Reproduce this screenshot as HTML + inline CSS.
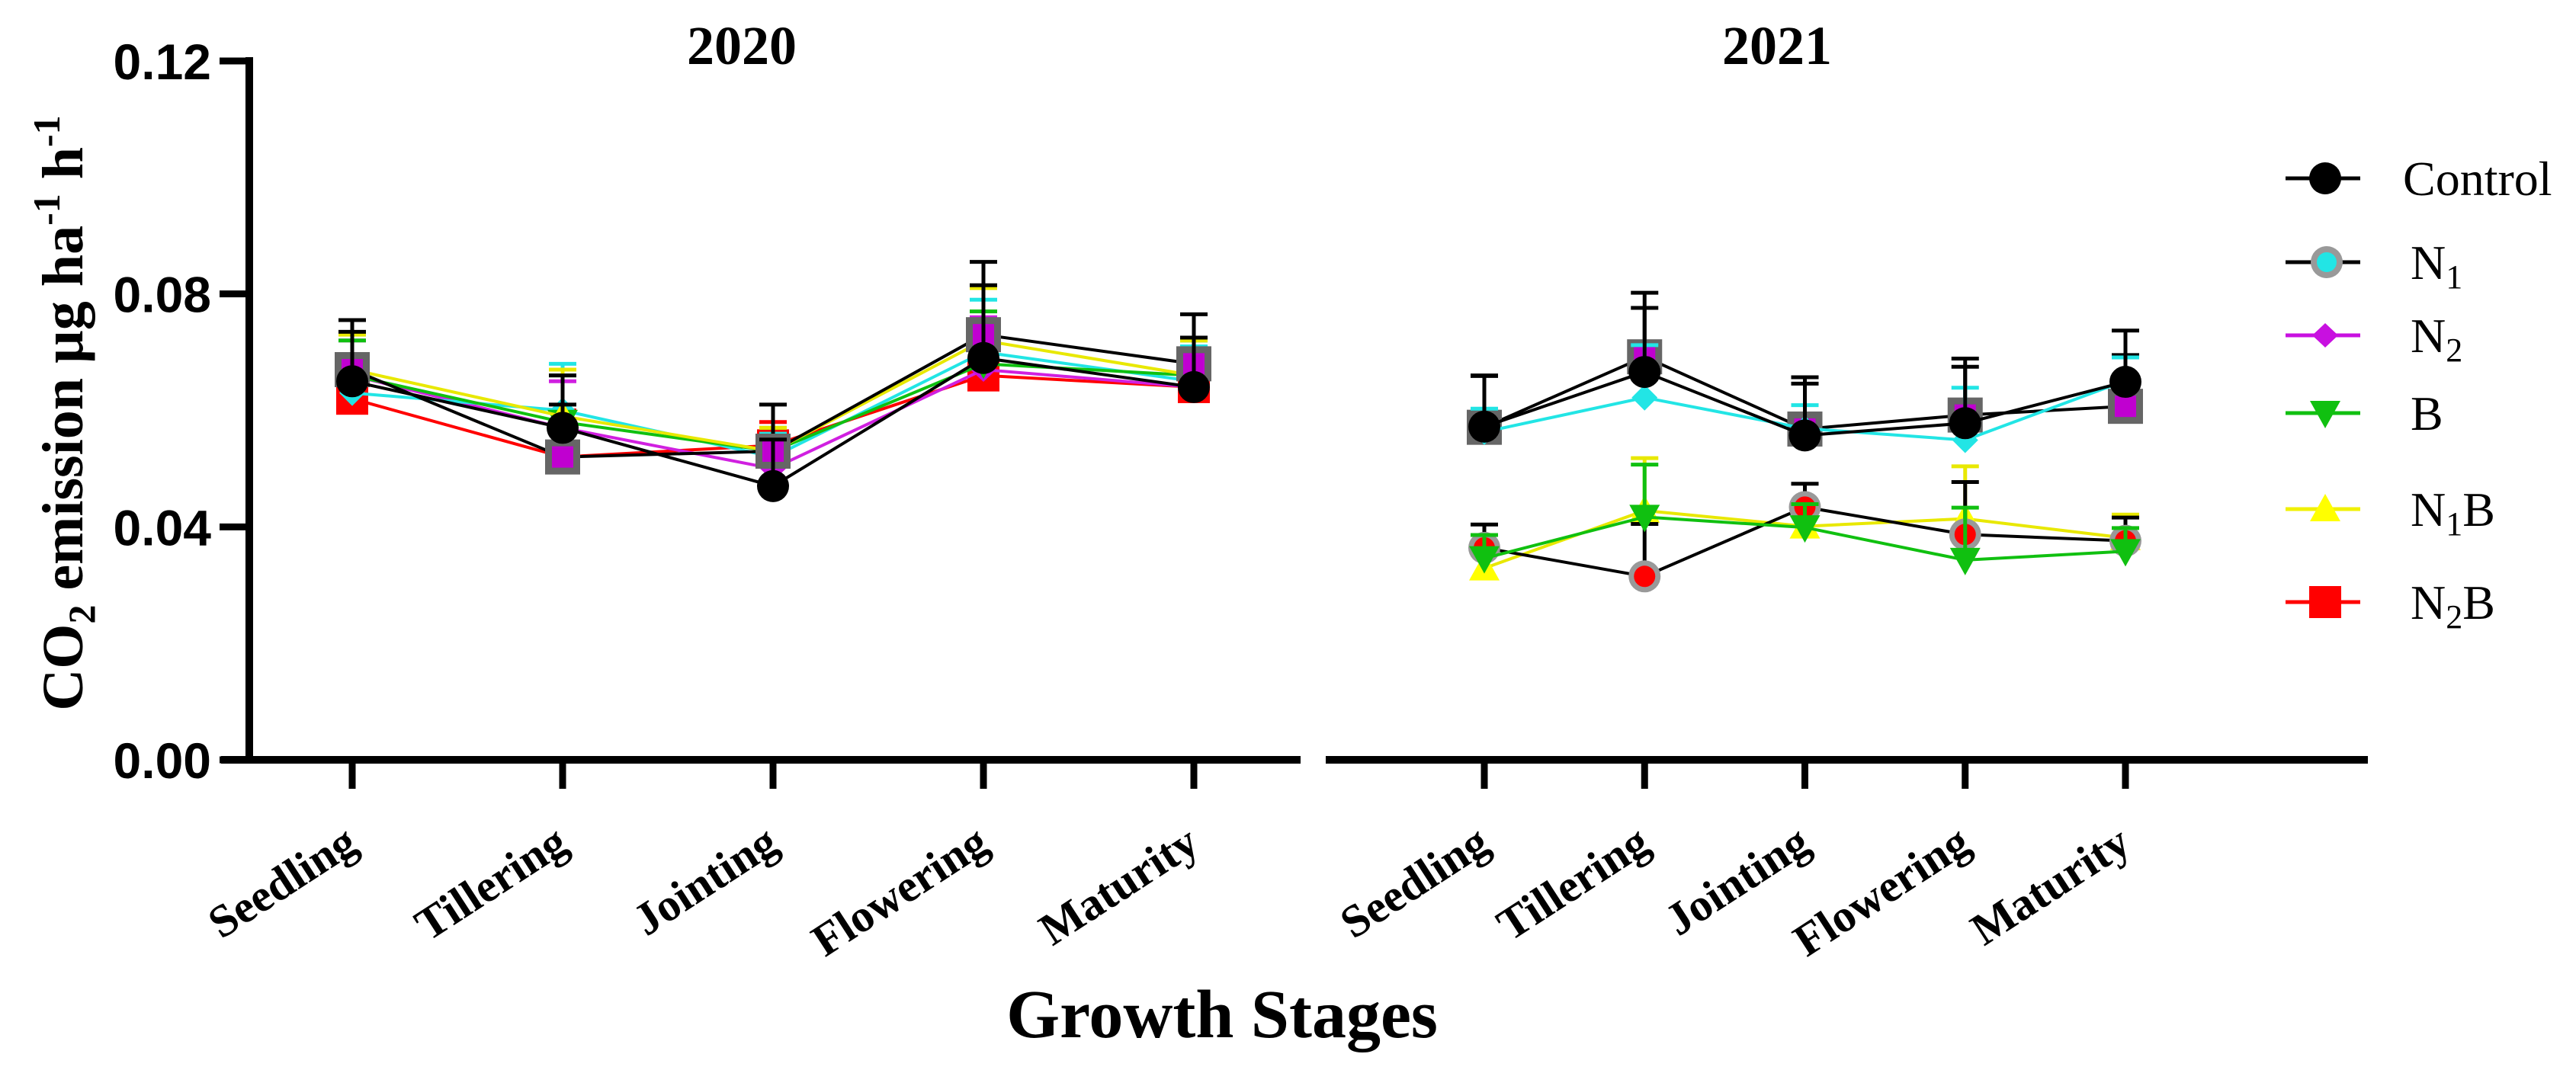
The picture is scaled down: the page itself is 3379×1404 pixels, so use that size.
<!DOCTYPE html>
<html><head><meta charset="utf-8"><style>
html,body{margin:0;padding:0;background:#fff;}
svg{display:block;}
</style></head><body>
<svg id="chart" width="3379" height="1404" viewBox="0 0 3379 1404" xmlns="http://www.w3.org/2000/svg">
<g id="axes"></g><g id="marks"></g><g id="legend"></g>
</svg>
<script>
const categories = ["Seedling","Tillering","Jointing","Flowering","Maturity"];
const yTicks = [0, 0.04, 0.08, 0.12];
const yTickLabels = ["0.00","0.04","0.08","0.12"];
const panelYears = ["2020","2021"];
// 2020 series values
const control2020 = [0.065,0.057,0.047,0.069,0.064];
const n1_2020 = [0.067,0.052,0.053,0.073,0.068];
const cyan2020 = [0.063,0.060,0.052,0.070,0.065];
const n2_2020 = [0.066,0.057,0.050,0.067,0.064];
const b2020 = [0.066,0.058,0.053,0.068,0.066];
const n1b2020 = [0.067,0.059,0.053,0.072,0.066];
const n2b2020 = [0.062,0.052,0.054,0.066,0.064];
// 2021 series values
const control2021 = [0.0572,0.0666,0.0557,0.0578,0.0649];
const n1_2021 = [0.0571,0.0692,0.0568,0.0592,0.0607];
const cyan2021 = [0.0563,0.0622,0.0569,0.0549,0.0651];
const n2_2021 = [0.0571,0.0692,0.0568,0.0592,0.0607];
const b2021 = [0.0346,0.0417,0.0399,0.0343,0.0358];
const n1b2021 = [0.0329,0.0428,0.0401,0.0414,0.0381];
const n2b2021 = [0.0364,0.0315,0.0434,0.0387,0.0376];
// error (upper) values
const controlErr2020 = [0.0085,0.009,0.008,0.0125,0.0085];
const otherErr2020 = [0.006,0.008,0.004,0.009,0.006];
const controlErr2021 = [0.0088,0.011,0.0089,0.0097,0.0088];
const otherErr2021 = [0.004,0.009,0.004,0.009,0.004];
const legendLabels = ["Control","N1","N2","B","N1B","N2B"];

const NS="http://www.w3.org/2000/svg";
function el(tag, attrs, parent){const e=document.createElementNS(NS,tag);for(const k in attrs)e.setAttribute(k,attrs[k]);(parent||document.getElementById('marks')).appendChild(e);return e;}
const Y0=997, YTOP=80;
function y(v){return Y0-(v/0.12)*(Y0-YTOP);}
const panels=[{x0:462,dx:276,axL:290,axR:1706},{x0:1947,dx:210.25,axL:1739,axR:3106}];
function x(p,i){return panels[p].x0+i*panels[p].dx;}
const axes=document.getElementById('axes');
let a=el('line',{x1:327,y1:YTOP-5,x2:327,y2:Y0+5,stroke:'#000','stroke-width':10},axes);

yTicks.forEach((t,i)=>{
  const tk=el('line',{x1:288,x2:327,y1:y(t),y2:y(t),stroke:'#000','stroke-width':9},axes);
  
  const tl=el('text',{x:277,y:y(t)+24,'text-anchor':'end','font-family':'Liberation Sans, sans-serif','font-weight':'bold','font-size':66},axes);
  tl.textContent=yTickLabels[i];
  
});
const yt=el('text',{transform:'translate(108,542) rotate(-90)','text-anchor':'middle','font-family':'Liberation Serif, serif','font-weight':'bold','font-size':76},axes);
yt.innerHTML='CO<tspan font-size="50" dy="16">2</tspan><tspan dy="-16"> emission µg ha</tspan><tspan font-size="50" dy="-30">-1</tspan><tspan dy="30"> h</tspan><tspan font-size="50" dy="-30">-1</tspan>';

panels.forEach((p,pi)=>{
  const xa=el('line',{x1:p.axL,x2:p.axR,y1:Y0,y2:Y0,stroke:'#000','stroke-width':10},axes);
  
  categories.forEach((c,i)=>{
    const tk=el('line',{x1:x(pi,i),x2:x(pi,i),y1:Y0,y2:Y0+38,stroke:'#000','stroke-width':9},axes);
    
    const tl=el('text',{transform:`translate(${x(pi,i)+10},${Y0+118}) rotate(-33)`,'text-anchor':'end','font-family':'Liberation Serif, serif','font-weight':'bold','font-size':60},axes);
    tl.textContent=c;
    
  });
  const tt=el('text',{x:pi===0?973:2331,y:84,'text-anchor':'middle','font-family':'Liberation Serif, serif','font-weight':'bold','font-size':72},axes);
  tt.textContent=panelYears[pi];
  
});
const xt=el('text',{x:1603,y:1361,'text-anchor':'middle','font-family':'Liberation Serif, serif','font-weight':'bold','font-size':90},axes);
xt.textContent='Growth Stages';


function marker(kind,cx,cy,g){
  if(kind==='circle'){el('circle',{cx,cy,r:21,fill:'#000'},g);}
  else if(kind==='graysq'){el('rect',{x:cx-23,y:cy-23,width:46,height:46,fill:'#666'},g);el('rect',{x:cx-14,y:cy-14,width:28,height:28,fill:'#c000d0'},g);}
  else if(kind==='graycircle'){el('circle',{cx,cy,r:21,fill:'#999'},g);el('circle',{cx,cy,r:14,fill:'#f00'},g);}
  else if(kind==='diamond'){el('polygon',{points:`${cx},${cy-17} ${cx+17},${cy} ${cx},${cy+17} ${cx-17},${cy}`,fill:'#22e5e5'},g);}
  else if(kind==='mdiamond'){el('polygon',{points:`${cx},${cy-16} ${cx+17},${cy} ${cx},${cy+16} ${cx-17},${cy}`,fill:'#c810e0'},g);}
  else if(kind==='down'){el('polygon',{points:`${cx-20},${cy-16} ${cx+20},${cy-16} ${cx},${cy+20}`,fill:'#10c010'},g);}
  else if(kind==='up'){el('polygon',{points:`${cx-20},${cy+16} ${cx+20},${cy+16} ${cx},${cy-20}`,fill:'#ffff00'},g);}
  else if(kind==='square'){el('rect',{x:cx-21,y:cy-21,width:42,height:42,fill:'#f00'},g);}
}
const seriesDefs=[
 {name:'n2b',p:0,vals:n2b2020,err:otherErr2020,color:'#f00',mk:'square'},
 {name:'n2',p:0,vals:n2_2020,err:otherErr2020,color:'#d020e0',mk:'mdiamond'},
 {name:'cyan',p:0,vals:cyan2020,err:otherErr2020,color:'#22e5e5',mk:'diamond'},
 {name:'b',p:0,vals:b2020,err:otherErr2020,color:'#10c010',mk:'down'},
 {name:'n1b',p:0,vals:n1b2020,err:otherErr2020,color:'#e8e800',mk:'up'},
 {name:'n1',p:0,vals:n1_2020,err:controlErr2020,color:'#000',mk:'graysq'},
 {name:'control',p:0,vals:control2020,err:controlErr2020,color:'#000',mk:'circle'},
 {name:'n1b',p:1,vals:n1b2021,err:otherErr2021,color:'#e8e800',mk:'up'},
 {name:'n2b',p:1,vals:n2b2021,err:otherErr2021,color:'#000',mk:'graycircle'},
 {name:'b',p:1,vals:b2021,err:otherErr2021,color:'#10c010',mk:'down'},
 {name:'n2',p:1,vals:n2_2021,err:controlErr2021,color:'#000',mk:'graysq'},
 {name:'cyan',p:1,vals:cyan2021,err:otherErr2021,color:'#22e5e5',mk:'diamond'},
 {name:'control',p:1,vals:control2021,err:controlErr2021,color:'#000',mk:'circle'},
];
seriesDefs.forEach(s=>{
  const g=el('g',{});
  
  
  s.vals.forEach((v,i)=>{
    const cx=x(s.p,i), top=y(v+s.err[i]);
    const eb=el('path',{d:`M${cx},${y(v)} V${top} M${cx-18},${top} H${cx+18}`,stroke:s.color,'stroke-width':5,fill:'none'},g);
    
  });
  const pts=s.vals.map((v,i)=>x(s.p,i)+','+y(v)).join(' ');
  const ln=el('polyline',{points:pts,fill:'none',stroke:s.color,'stroke-width':4},g);
  
  s.vals.forEach((v,i)=>marker(s.mk,x(s.p,i),y(v),g));
});
const lg=document.getElementById('legend');
const legY=[234,344,440,542,668,790];
const legStyle=[{c:'#000',mk:'circle'},{c:'#000',mk:'gc'},{c:'#c810e0',mk:'mdiamond'},{c:'#10c010',mk:'down'},{c:'#f0f000',mk:'up'},{c:'#f00',mk:'square'}];
legendLabels.forEach((lab,i)=>{
  const g=el('g',{},lg);
  
  
  const yy=legY[i];
  el('line',{x1:2998,x2:3096,y1:yy,y2:yy,stroke:legStyle[i].c,'stroke-width':5},g);
  if(legStyle[i].mk==='gc'){el('circle',{cx:3052,cy:yy,r:21,fill:'#999'},g);el('circle',{cx:3052,cy:yy,r:13,fill:'#22e5e5'},g);}
  else marker(legStyle[i].mk,3050,yy,g);
  const t=el('text',{x:i===0?3152:3162,y:yy+22,'font-family':'Liberation Serif, serif','font-size':64},g);
  if(lab==='N1'){t.innerHTML='N<tspan font-size="44" dy="12">1</tspan>';}
  else if(lab==='N2'){t.innerHTML='N<tspan font-size="44" dy="12">2</tspan>';}
  else if(lab==='N1B'){t.innerHTML='N<tspan font-size="44" dy="12">1</tspan><tspan dy="-12">B</tspan>';}
  else if(lab==='N2B'){t.innerHTML='N<tspan font-size="44" dy="12">2</tspan><tspan dy="-12">B</tspan>';}
  else t.textContent=lab;
});
</script>
</body></html>
